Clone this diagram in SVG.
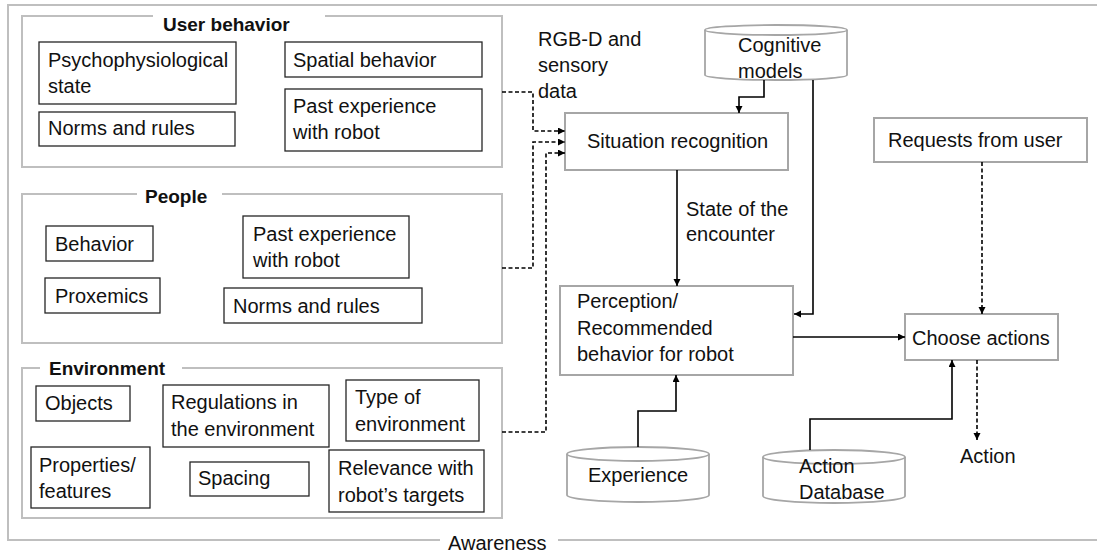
<svg xmlns="http://www.w3.org/2000/svg" width="1097" height="553" viewBox="0 0 1097 553">
  <style>
    text { font-family: "Liberation Sans", Arial, sans-serif; font-size: 20px; fill: #111; }
    .title { font-weight: bold; font-size: 19px; }
    .frame { fill: none; stroke: #bfbfbf; stroke-width: 2; }
    .item { fill: #fff; stroke: #262626; stroke-width: 1.3; }
    .proc { fill: #fff; stroke: #a6a6a6; stroke-width: 2; }
    .store { fill: #fff; stroke: #a6a6a6; stroke-width: 1.8; }
    .solid { fill: none; stroke: #000; stroke-width: 1.6; marker-end: url(#arrow); }
    .dashed { fill: none; stroke: #000; stroke-width: 1.6; stroke-dasharray: 4 2.5; marker-end: url(#arrow); }
  </style>
  <defs>
    <marker id="arrow" markerUnits="userSpaceOnUse" markerWidth="8" markerHeight="8" refX="7" refY="3.5" orient="auto">
      <path d="M0,0 L7,3.5 L0,7 z" fill="#000"/>
    </marker>
  </defs>

  <rect width="1097" height="553" fill="#fff"/>

  <!-- Awareness frame (open on the right) -->
  <g id="awareness">
    <path class="frame" d="M1097,5 H8 V540 H440 M558,540 H1097"/>
    <text x="448" y="550">Awareness</text>
  </g>

  <!-- User behavior -->
  <g id="user-behavior">
    <path class="frame" d="M153,16 H22 V167 H502 V16 H325"/>
    <text class="title" x="163" y="31">User behavior</text>
    <g id="ub-psycho">
      <rect class="item" x="39" y="42" width="197" height="62"/>
      <text x="48" y="67">Psychophysiological</text>
      <text x="48" y="93">state</text>
    </g>
    <g id="ub-norms">
      <rect class="item" x="39" y="112" width="196" height="34"/>
      <text x="48" y="135">Norms and rules</text>
    </g>
    <g id="ub-spatial">
      <rect class="item" x="285" y="42" width="197" height="35"/>
      <text x="293" y="67">Spatial behavior</text>
    </g>
    <g id="ub-past">
      <rect class="item" x="285" y="89" width="197" height="62"/>
      <text x="293" y="113">Past experience</text>
      <text x="293" y="139">with robot</text>
    </g>
  </g>

  <!-- People -->
  <g id="people">
    <path class="frame" d="M137,194 H22 V343 H502 V194 H222"/>
    <text class="title" x="145" y="203">People</text>
    <g id="pe-behavior">
      <rect class="item" x="46" y="226" width="107" height="35"/>
      <text x="55" y="251">Behavior</text>
    </g>
    <g id="pe-proxemics">
      <rect class="item" x="45" y="278" width="115" height="35"/>
      <text x="55" y="303">Proxemics</text>
    </g>
    <g id="pe-past">
      <rect class="item" x="243" y="216" width="166" height="62"/>
      <text x="253" y="241">Past experience</text>
      <text x="253" y="267">with robot</text>
    </g>
    <g id="pe-norms">
      <rect class="item" x="224" y="288" width="198" height="35"/>
      <text x="233" y="313">Norms and rules</text>
    </g>
  </g>

  <!-- Environment -->
  <g id="environment">
    <path class="frame" d="M40,368 H22 V518 H502 V368 H182"/>
    <text class="title" x="49" y="375">Environment</text>
    <g id="en-objects">
      <rect class="item" x="36" y="386" width="94" height="35"/>
      <text x="45" y="410">Objects</text>
    </g>
    <g id="en-regulations">
      <rect class="item" x="163" y="385" width="166" height="62"/>
      <text x="171" y="409">Regulations in</text>
      <text x="171" y="436">the environment</text>
    </g>
    <g id="en-type">
      <rect class="item" x="346" y="380" width="133" height="61"/>
      <text x="355" y="404">Type of</text>
      <text x="355" y="431">environment</text>
    </g>
    <g id="en-properties">
      <rect class="item" x="31" y="447" width="119" height="61"/>
      <text x="39" y="472">Properties/</text>
      <text x="39" y="498">features</text>
    </g>
    <g id="en-spacing">
      <rect class="item" x="190" y="462" width="119" height="34"/>
      <text x="198" y="485">Spacing</text>
    </g>
    <g id="en-relevance">
      <rect class="item" x="329" y="450" width="155" height="62"/>
      <text x="338" y="475">Relevance with</text>
      <text x="338" y="502">robot’s targets</text>
    </g>
  </g>

  <!-- Sensor input label -->
  <g id="sensor-label">
    <text x="538" y="46">RGB-D and</text>
    <text x="538" y="72">sensory</text>
    <text x="538" y="98">data</text>
  </g>

  <!-- Processing blocks -->
  <g id="situation">
    <rect class="proc" x="565" y="113" width="223" height="57"/>
    <text x="587" y="148">Situation recognition</text>
  </g>

  <g id="perception">
    <rect class="proc" x="560" y="286" width="233" height="89"/>
    <text x="577" y="308">Perception/</text>
    <text x="577" y="335">Recommended</text>
    <text x="577" y="361">behavior for robot</text>
  </g>

  <g id="requests">
    <rect class="proc" x="874" y="118" width="213" height="44"/>
    <text x="888" y="147">Requests from user</text>
  </g>

  <g id="choose">
    <rect class="proc" x="905" y="314" width="153" height="46"/>
    <text x="912" y="345">Choose actions</text>
  </g>

  <!-- Data stores -->
  <g id="cognitive-models">
    <path class="store" d="M705,30 A71,5 0 0 1 847,30 V75 A71,5 0 0 1 705,75 Z"/>
    <path class="store" d="M705,30 A71,5 0 0 0 847,30"/>
    <text x="738" y="52">Cognitive</text>
    <text x="738" y="78">models</text>
  </g>

  <g id="experience">
    <path class="store" d="M567,454 A71,7 0 0 1 709,454 V495 A71,7 0 0 1 567,495 Z"/>
    <path class="store" d="M567,454 A71,7 0 0 0 709,454"/>
    <text x="588" y="482">Experience</text>
  </g>

  <g id="action-database">
    <path class="store" d="M763,457 A71,7 0 0 1 905,457 V496 A71,7 0 0 1 763,496 Z"/>
    <path class="store" d="M763,457 A71,7 0 0 0 905,457"/>
    <text x="799" y="473">Action</text>
    <text x="799" y="499">Database</text>
  </g>

  <g id="action-output">
    <text x="960" y="463">Action</text>
  </g>

  <!-- Connectors -->
  <g id="connectors">
    <path class="dashed" d="M502,92 H533 V131 H565"/>
    <path class="dashed" d="M502,268 H533 V142 H565"/>
    <path class="dashed" d="M502,432 H546 V153 H565"/>
    <path class="solid" d="M764,80 V97 H739 V113"/>
    <path class="solid" d="M813,80 V314 H794"/>
    <path class="solid" d="M677,170 V286"/>
    <text x="686" y="216">State of the</text>
    <text x="686" y="241">encounter</text>
    <path class="solid" d="M793,337 H905"/>
    <path class="solid" d="M638,447 V411 H676 V375"/>
    <path class="solid" d="M810,450 V419 H952 V360"/>
    <path class="dashed" d="M982,162 V314"/>
    <path class="dashed" d="M977,360 V440"/>
  </g>
</svg>
